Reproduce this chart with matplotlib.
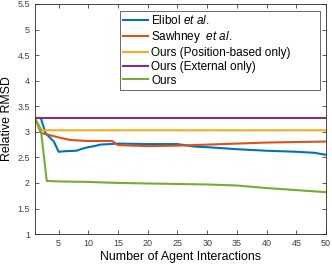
import matplotlib.pyplot as plt

plt.rcParams["font.family"] = ["Liberation Sans", "DejaVu Sans"]
plt.rcParams["mathtext.fontset"] = "custom"
plt.rcParams["mathtext.it"] = "Liberation Sans:italic"
plt.rcParams["mathtext.rm"] = "Liberation Sans"

# Values
elibol_x = [1, 2, 2.8, 4.2, 5, 6, 8, 9, 10, 11, 12, 15, 20, 25, 28, 30, 35, 40, 45, 48, 50]
elibol_y = [3.27, 3.27, 2.97, 2.81, 2.61, 2.62, 2.63, 2.67, 2.70, 2.72, 2.75, 2.77, 2.76, 2.76, 2.71, 2.70, 2.66, 2.63, 2.61, 2.59, 2.55]

sawhney_x = [1, 2, 3, 5, 7, 10, 14, 15, 20, 25, 30, 35, 40, 45, 50]
sawhney_y = [3.27, 2.98, 2.95, 2.89, 2.84, 2.82, 2.82, 2.74, 2.72, 2.73, 2.75, 2.77, 2.79, 2.80, 2.81]

pos_x = [1, 2, 50]
pos_y = [3.27, 3.03, 3.03]

ext_x = [1, 50]
ext_y = [3.27, 3.27]

ours_x = [1, 2, 3, 5, 10, 15, 20, 25, 30, 35, 40, 45, 50]
ours_y = [3.27, 3.05, 2.04, 2.03, 2.02, 2.00, 1.99, 1.98, 1.97, 1.95, 1.90, 1.86, 1.82]

colors = ["#0072BD", "#D95319", "#EDB120", "#7E2F8E", "#77AC30"]

fig = plt.figure(figsize=(3.32, 2.66), dpi=100)
ax = fig.add_axes([0.105, 0.12, 0.877, 0.865])

ax.plot(elibol_x, elibol_y, color=colors[0], lw=1.5, label="Elibol $\\it{et\\ al.}$")
ax.plot(sawhney_x, sawhney_y, color=colors[1], lw=1.5, label="Sawhney  $\\it{et\\ al.}$")
ax.plot(pos_x, pos_y, color=colors[2], lw=1.5, label="Ours (Position-based only)        ")
ax.plot(ext_x, ext_y, color=colors[3], lw=1.5, label="Ours (External only)")
ax.plot(ours_x, ours_y, color=colors[4], lw=1.5, label="Ours")

ax.set_xlim(1, 50)
ax.set_ylim(1, 5.5)
ax.set_xticks(range(5, 51, 5))
ax.set_yticks([1, 1.5, 2, 2.5, 3, 3.5, 4, 4.5, 5, 5.5])
ax.set_yticklabels(["1", "1.5", "2", "2.5", "3", "3.5", "4", "4.5", "5", "5.5"])
ax.tick_params(direction="in", top=True, right=True, labelsize=6.5,
               colors="#404040", length=3, width=0.6)
for s in ax.spines.values():
    s.set_color("#262626")
    s.set_linewidth(0.6)

ax.set_xlabel("Number of Agent Interactions", fontsize=8.9, labelpad=2)
ax.set_ylabel("Relative RMSD", fontsize=8.9, labelpad=3)

leg = ax.legend(loc="upper right", bbox_to_anchor=(0.98, 0.97), borderaxespad=0,
                fontsize=8.5, handlelength=2.1, handletextpad=0.25,
                labelspacing=0.15, fancybox=False, edgecolor="#262626",
                borderpad=0.3)
leg.get_frame().set_linewidth(0.6)

plt.savefig("out.png", dpi=100)
